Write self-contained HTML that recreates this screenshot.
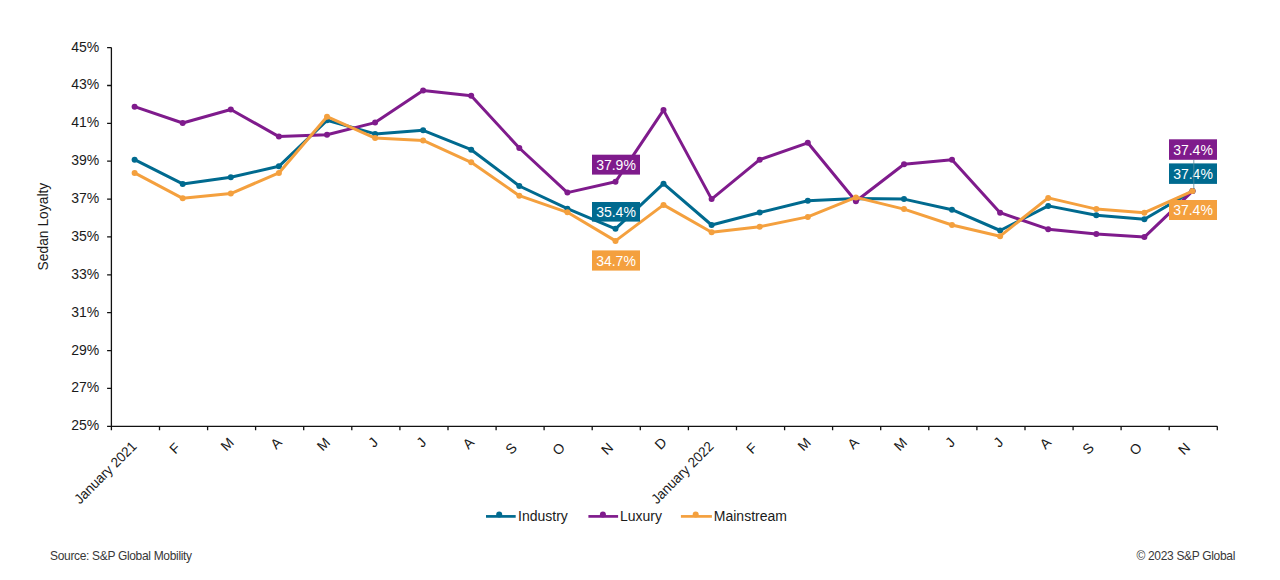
<!DOCTYPE html>
<html><head><meta charset="utf-8"><style>
html,body{margin:0;padding:0;background:#fff;width:1280px;height:580px;overflow:hidden}
svg{display:block;font-family:"Liberation Sans",sans-serif}
.yl{font-size:14px;fill:#1a1a1a}
.xl{font-size:14px;fill:#1a1a1a}
.yt{font-size:14px;fill:#1a1a1a}
.dl{font-size:14px;fill:#fff}
.lg{font-size:14px;fill:#1a1a1a}
.ft{font-size:12px;fill:#383838;letter-spacing:-0.32px}
</style></head><body>
<svg width="1280" height="580" viewBox="0 0 1280 580">
<path d="M111.4 47.6V426.3H1217.3" fill="none" stroke="#111" stroke-width="1.3"/>
<path d="M107.1 47.6H111.4 M107.1 85.5H111.4 M107.1 123.3H111.4 M107.1 161.2H111.4 M107.1 199.1H111.4 M107.1 236.9H111.4 M107.1 274.8H111.4 M107.1 312.7H111.4 M107.1 350.6H111.4 M107.1 388.4H111.4 M107.1 426.3H111.4 M111.4 426.3V430.3 M159.5 426.3V430.3 M207.6 426.3V430.3 M255.6 426.3V430.3 M303.7 426.3V430.3 M351.8 426.3V430.3 M399.9 426.3V430.3 M448.0 426.3V430.3 M496.1 426.3V430.3 M544.1 426.3V430.3 M592.2 426.3V430.3 M640.3 426.3V430.3 M688.4 426.3V430.3 M736.5 426.3V430.3 M784.6 426.3V430.3 M832.6 426.3V430.3 M880.7 426.3V430.3 M928.8 426.3V430.3 M976.9 426.3V430.3 M1025.0 426.3V430.3 M1073.1 426.3V430.3 M1121.1 426.3V430.3 M1169.2 426.3V430.3 M1217.3 426.3V430.3" fill="none" stroke="#111" stroke-width="1.3"/>
<text transform="translate(99.20 51.60)" text-anchor="end" class="yl">45%</text>
<text transform="translate(99.20 89.47)" text-anchor="end" class="yl">43%</text>
<text transform="translate(99.20 127.34)" text-anchor="end" class="yl">41%</text>
<text transform="translate(99.20 165.21)" text-anchor="end" class="yl">39%</text>
<text transform="translate(99.20 203.08)" text-anchor="end" class="yl">37%</text>
<text transform="translate(99.20 240.95)" text-anchor="end" class="yl">35%</text>
<text transform="translate(99.20 278.82)" text-anchor="end" class="yl">33%</text>
<text transform="translate(99.20 316.69)" text-anchor="end" class="yl">31%</text>
<text transform="translate(99.20 354.56)" text-anchor="end" class="yl">29%</text>
<text transform="translate(99.20 392.43)" text-anchor="end" class="yl">27%</text>
<text transform="translate(99.20 430.30)" text-anchor="end" class="yl">25%</text>
<text transform="translate(137.54 447.10) rotate(-45) scale(0.96 1.0)" text-anchor="end" class="xl">January 2021</text>
<text transform="translate(181.32 448.60) rotate(-45)" text-anchor="end" class="xl">F</text>
<text transform="translate(234.81 443.40) rotate(-45)" text-anchor="end" class="xl">M</text>
<text transform="translate(282.89 443.40) rotate(-45)" text-anchor="end" class="xl">A</text>
<text transform="translate(330.97 443.40) rotate(-45)" text-anchor="end" class="xl">M</text>
<text transform="translate(379.05 443.40) rotate(-45)" text-anchor="end" class="xl">J</text>
<text transform="translate(427.14 443.40) rotate(-45)" text-anchor="end" class="xl">J</text>
<text transform="translate(475.22 443.40) rotate(-45)" text-anchor="end" class="xl">A</text>
<text transform="translate(517.90 448.60) rotate(-45)" text-anchor="end" class="xl">S</text>
<text transform="translate(565.98 448.60) rotate(-45)" text-anchor="end" class="xl">O</text>
<text transform="translate(614.07 448.60) rotate(-45)" text-anchor="end" class="xl">N</text>
<text transform="translate(667.55 443.40) rotate(-45)" text-anchor="end" class="xl">D</text>
<text transform="translate(714.53 447.10) rotate(-45) scale(0.96 1.0)" text-anchor="end" class="xl">January 2022</text>
<text transform="translate(758.32 448.60) rotate(-45)" text-anchor="end" class="xl">F</text>
<text transform="translate(811.80 443.40) rotate(-45)" text-anchor="end" class="xl">M</text>
<text transform="translate(859.88 443.40) rotate(-45)" text-anchor="end" class="xl">A</text>
<text transform="translate(907.96 443.40) rotate(-45)" text-anchor="end" class="xl">M</text>
<text transform="translate(956.05 443.40) rotate(-45)" text-anchor="end" class="xl">J</text>
<text transform="translate(1004.13 443.40) rotate(-45)" text-anchor="end" class="xl">J</text>
<text transform="translate(1052.21 443.40) rotate(-45)" text-anchor="end" class="xl">A</text>
<text transform="translate(1094.89 448.60) rotate(-45)" text-anchor="end" class="xl">S</text>
<text transform="translate(1142.98 448.60) rotate(-45)" text-anchor="end" class="xl">O</text>
<text transform="translate(1191.06 448.60) rotate(-45)" text-anchor="end" class="xl">N</text>
<polyline points="134.6,159.7 182.7,183.9 230.8,177.3 278.9,166.3 327.0,120.3 375.1,133.9 423.1,130.3 471.2,149.7 519.3,186.0 567.4,208.7 615.5,228.8 663.5,183.7 711.6,225.0 759.7,212.5 807.8,200.8 855.9,198.5 904.0,199.1 952.0,209.7 1000.1,230.5 1048.2,205.9 1096.3,215.2 1144.4,219.2 1192.5,191.1" fill="none" stroke="#006a8f" stroke-width="3" stroke-linejoin="round"/><circle cx="134.6" cy="159.7" r="3.0" fill="#006a8f"/><circle cx="182.7" cy="183.9" r="3.0" fill="#006a8f"/><circle cx="230.8" cy="177.3" r="3.0" fill="#006a8f"/><circle cx="278.9" cy="166.3" r="3.0" fill="#006a8f"/><circle cx="327.0" cy="120.3" r="3.0" fill="#006a8f"/><circle cx="375.1" cy="133.9" r="3.0" fill="#006a8f"/><circle cx="423.1" cy="130.3" r="3.0" fill="#006a8f"/><circle cx="471.2" cy="149.7" r="3.0" fill="#006a8f"/><circle cx="519.3" cy="186.0" r="3.0" fill="#006a8f"/><circle cx="567.4" cy="208.7" r="3.0" fill="#006a8f"/><circle cx="615.5" cy="228.8" r="3.0" fill="#006a8f"/><circle cx="663.5" cy="183.7" r="3.0" fill="#006a8f"/><circle cx="711.6" cy="225.0" r="3.0" fill="#006a8f"/><circle cx="759.7" cy="212.5" r="3.0" fill="#006a8f"/><circle cx="807.8" cy="200.8" r="3.0" fill="#006a8f"/><circle cx="855.9" cy="198.5" r="3.0" fill="#006a8f"/><circle cx="904.0" cy="199.1" r="3.0" fill="#006a8f"/><circle cx="952.0" cy="209.7" r="3.0" fill="#006a8f"/><circle cx="1000.1" cy="230.5" r="3.0" fill="#006a8f"/><circle cx="1048.2" cy="205.9" r="3.0" fill="#006a8f"/><circle cx="1096.3" cy="215.2" r="3.0" fill="#006a8f"/><circle cx="1144.4" cy="219.2" r="3.0" fill="#006a8f"/><circle cx="1192.5" cy="191.1" r="3.0" fill="#006a8f"/>
<polyline points="134.6,106.7 182.7,123.0 230.8,109.5 278.9,136.6 327.0,134.7 375.1,122.6 423.1,90.4 471.2,95.7 519.3,148.0 567.4,192.6 615.5,181.8 663.5,110.1 711.6,199.1 759.7,159.7 807.8,142.8 855.9,201.2 904.0,164.2 952.0,159.7 1000.1,212.7 1048.2,229.2 1096.3,234.1 1144.4,237.1 1192.5,191.1" fill="none" stroke="#7f1b8c" stroke-width="3" stroke-linejoin="round"/><circle cx="134.6" cy="106.7" r="3.0" fill="#7f1b8c"/><circle cx="182.7" cy="123.0" r="3.0" fill="#7f1b8c"/><circle cx="230.8" cy="109.5" r="3.0" fill="#7f1b8c"/><circle cx="278.9" cy="136.6" r="3.0" fill="#7f1b8c"/><circle cx="327.0" cy="134.7" r="3.0" fill="#7f1b8c"/><circle cx="375.1" cy="122.6" r="3.0" fill="#7f1b8c"/><circle cx="423.1" cy="90.4" r="3.0" fill="#7f1b8c"/><circle cx="471.2" cy="95.7" r="3.0" fill="#7f1b8c"/><circle cx="519.3" cy="148.0" r="3.0" fill="#7f1b8c"/><circle cx="567.4" cy="192.6" r="3.0" fill="#7f1b8c"/><circle cx="615.5" cy="181.8" r="3.0" fill="#7f1b8c"/><circle cx="663.5" cy="110.1" r="3.0" fill="#7f1b8c"/><circle cx="711.6" cy="199.1" r="3.0" fill="#7f1b8c"/><circle cx="759.7" cy="159.7" r="3.0" fill="#7f1b8c"/><circle cx="807.8" cy="142.8" r="3.0" fill="#7f1b8c"/><circle cx="855.9" cy="201.2" r="3.0" fill="#7f1b8c"/><circle cx="904.0" cy="164.2" r="3.0" fill="#7f1b8c"/><circle cx="952.0" cy="159.7" r="3.0" fill="#7f1b8c"/><circle cx="1000.1" cy="212.7" r="3.0" fill="#7f1b8c"/><circle cx="1048.2" cy="229.2" r="3.0" fill="#7f1b8c"/><circle cx="1096.3" cy="234.1" r="3.0" fill="#7f1b8c"/><circle cx="1144.4" cy="237.1" r="3.0" fill="#7f1b8c"/><circle cx="1192.5" cy="191.1" r="3.0" fill="#7f1b8c"/>
<polyline points="134.6,172.9 182.7,198.3 230.8,193.6 278.9,172.9 327.0,116.7 375.1,138.1 423.1,140.4 471.2,162.3 519.3,195.7 567.4,212.3 615.5,240.9 663.5,204.9 711.6,232.2 759.7,226.7 807.8,216.9 855.9,197.4 904.0,209.1 952.0,225.0 1000.1,236.2 1048.2,197.9 1096.3,209.1 1144.4,212.7 1192.5,191.1" fill="none" stroke="#f4a03e" stroke-width="3" stroke-linejoin="round"/><circle cx="134.6" cy="172.9" r="3.0" fill="#f4a03e"/><circle cx="182.7" cy="198.3" r="3.0" fill="#f4a03e"/><circle cx="230.8" cy="193.6" r="3.0" fill="#f4a03e"/><circle cx="278.9" cy="172.9" r="3.0" fill="#f4a03e"/><circle cx="327.0" cy="116.7" r="3.0" fill="#f4a03e"/><circle cx="375.1" cy="138.1" r="3.0" fill="#f4a03e"/><circle cx="423.1" cy="140.4" r="3.0" fill="#f4a03e"/><circle cx="471.2" cy="162.3" r="3.0" fill="#f4a03e"/><circle cx="519.3" cy="195.7" r="3.0" fill="#f4a03e"/><circle cx="567.4" cy="212.3" r="3.0" fill="#f4a03e"/><circle cx="615.5" cy="240.9" r="3.0" fill="#f4a03e"/><circle cx="663.5" cy="204.9" r="3.0" fill="#f4a03e"/><circle cx="711.6" cy="232.2" r="3.0" fill="#f4a03e"/><circle cx="759.7" cy="226.7" r="3.0" fill="#f4a03e"/><circle cx="807.8" cy="216.9" r="3.0" fill="#f4a03e"/><circle cx="855.9" cy="197.4" r="3.0" fill="#f4a03e"/><circle cx="904.0" cy="209.1" r="3.0" fill="#f4a03e"/><circle cx="952.0" cy="225.0" r="3.0" fill="#f4a03e"/><circle cx="1000.1" cy="236.2" r="3.0" fill="#f4a03e"/><circle cx="1048.2" cy="197.9" r="3.0" fill="#f4a03e"/><circle cx="1096.3" cy="209.1" r="3.0" fill="#f4a03e"/><circle cx="1144.4" cy="212.7" r="3.0" fill="#f4a03e"/><circle cx="1192.5" cy="191.1" r="3.0" fill="#f4a03e"/>
<rect x="592" y="154.7" width="48" height="19.9" fill="#7f1b8c"/><text transform="translate(616.00 169.60)" text-anchor="middle" class="dl">37.9%</text>
<rect x="592" y="202" width="48" height="19.6" fill="#006a8f"/><text transform="translate(616.00 216.60)" text-anchor="middle" class="dl">35.4%</text>
<rect x="592" y="250.4" width="48" height="20.2" fill="#f4a03e"/><text transform="translate(616.00 265.60)" text-anchor="middle" class="dl">34.7%</text>
<rect x="1169" y="139.3" width="48" height="20.5" fill="#7f1b8c"/><text transform="translate(1193.00 154.80)" text-anchor="middle" class="dl">37.4%</text>
<rect x="1169" y="163.4" width="48" height="20.5" fill="#006a8f"/><text transform="translate(1193.00 178.90)" text-anchor="middle" class="dl">37.4%</text>
<rect x="1169" y="200" width="48" height="20" fill="#f4a03e"/><text transform="translate(1193.00 215.00)" text-anchor="middle" class="dl">37.4%</text>
<line x1="1193.8" y1="159.8" x2="1193.8" y2="189" stroke="#5a8a9a" stroke-width="0.8"/>
<text transform="translate(47.70 226.60) rotate(-90) scale(0.99 1.0)" text-anchor="middle" class="yt">Sedan Loyalty</text>
<line x1="486" y1="516.4" x2="515.7" y2="516.4" stroke="#006a8f" stroke-width="2.7"/><circle cx="499.2" cy="514.6" r="3" fill="#006a8f"/><text transform="translate(518.00 521.00)" class="lg">Industry</text>
<line x1="588.4" y1="516.4" x2="618.1" y2="516.4" stroke="#7f1b8c" stroke-width="2.7"/><circle cx="602.9" cy="514.6" r="3" fill="#7f1b8c"/><text transform="translate(620.00 521.00)" class="lg">Luxury</text>
<line x1="680.9" y1="516.4" x2="711.9" y2="516.4" stroke="#f4a03e" stroke-width="2.7"/><circle cx="695.7" cy="514.6" r="3" fill="#f4a03e"/><text transform="translate(713.80 521.00)" class="lg">Mainstream</text>
<text transform="translate(50.00 560.00) scale(1.0 1.03)" class="ft">Source: S&amp;P Global Mobility</text>
<text transform="translate(1235.00 560.00) scale(1.0 1.03)" text-anchor="end" class="ft">© 2023 S&amp;P Global</text>
</svg>
</body></html>
